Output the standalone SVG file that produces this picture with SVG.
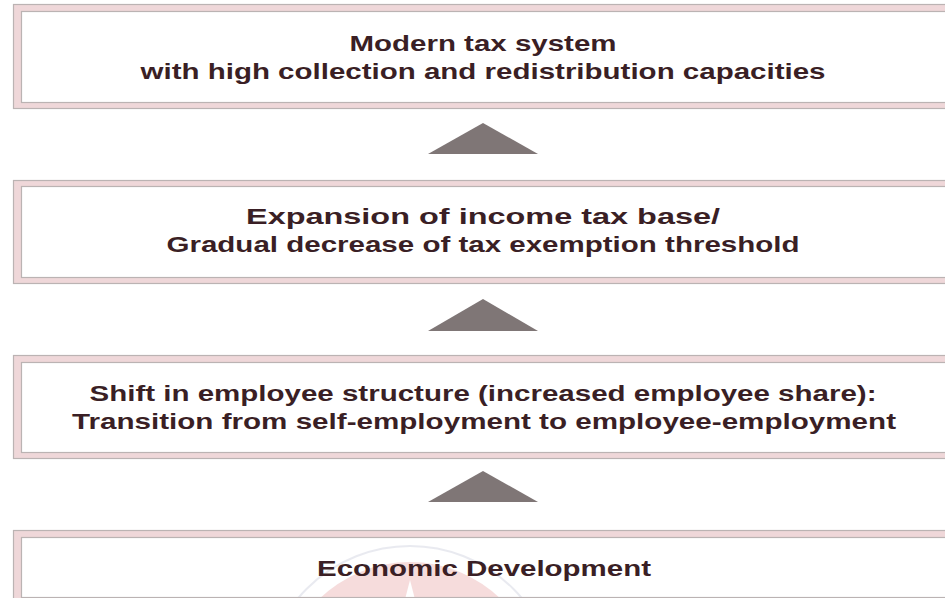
<svg xmlns="http://www.w3.org/2000/svg" width="945" height="598" viewBox="0 0 945 598">
  <defs>
    <style>
      .frame { fill: #efd7d9; stroke: #bbb3b3; stroke-width: 1.2; }
      .panel { fill: #ffffff; stroke: #bbb3b3; stroke-width: 1.2; }
      .label { font-family: "Liberation Sans", Arial, sans-serif; font-weight: bold; font-size: 22.5px; fill: #3a1f25; text-anchor: middle; }
      .arrow { fill: #7f7676; }
    </style>
    <clipPath id="base-clip">
      <rect x="22" y="538" width="940" height="60"/>
    </clipPath>
  </defs>
  <rect width="945" height="598" fill="#ffffff"/>

  <!-- top box -->
  <g id="node-tax-system">
    <rect class="frame" x="13.5" y="4.5" width="945" height="104"/>
    <rect class="panel" x="21.5" y="11.5" width="940" height="91"/>
    <text class="label" x="483" y="51" textLength="267" lengthAdjust="spacingAndGlyphs">Modern tax system</text>
    <text class="label" x="483" y="79" textLength="685" lengthAdjust="spacingAndGlyphs">with high collection and redistribution capacities</text>
  </g>

  <!-- second box -->
  <g id="node-income-tax-base">
    <rect class="frame" x="13.5" y="180.5" width="945" height="103"/>
    <rect class="panel" x="21.5" y="186.5" width="940" height="91"/>
    <text class="label" x="483" y="224" textLength="474" lengthAdjust="spacingAndGlyphs">Expansion of income tax base/</text>
    <text class="label" x="483" y="252" textLength="633" lengthAdjust="spacingAndGlyphs">Gradual decrease of tax exemption threshold</text>
  </g>

  <!-- third box -->
  <g id="node-employee-structure">
    <rect class="frame" x="13.5" y="355.5" width="945" height="103"/>
    <rect class="panel" x="21.5" y="362.5" width="940" height="90"/>
    <text class="label" x="483" y="401" textLength="787" lengthAdjust="spacingAndGlyphs">Shift in employee structure (increased employee share):</text>
    <text class="label" x="484" y="429" textLength="824" lengthAdjust="spacingAndGlyphs">Transition from self-employment to employee-employment</text>
  </g>

  <!-- base box with a faint seal printed behind its label -->
  <g id="node-economic-development">
    <rect class="frame" x="13.5" y="530.5" width="945" height="80"/>
    <rect class="panel" x="21.5" y="537.5" width="940" height="60"/>
    <g clip-path="url(#base-clip)" opacity="0.3">
      <circle cx="410" cy="692" r="146" fill="none" stroke="#b8bcd0" stroke-width="2"/>
      <circle cx="410" cy="692" r="130" fill="#e28f8f"/>
      <polygon points="410,580 425,638 485,638 437,672 455,729 410,695 365,729 383,672 335,638 395,638" fill="#ffffff"/>
    </g>
    <line x1="21" y1="597.5" x2="945" y2="597.5" stroke="#bbb3b3" stroke-width="1"/>
    <text class="label" x="484" y="576" textLength="334" lengthAdjust="spacingAndGlyphs">Economic Development</text>
  </g>

  <!-- upward arrows between levels -->
  <g id="connectors">
    <polygon class="arrow" points="483,123 538,154 428,154"/>
    <polygon class="arrow" points="483,299 538,331 428,331"/>
    <polygon class="arrow" points="483,471 538,502 428,502"/>
  </g>
</svg>
